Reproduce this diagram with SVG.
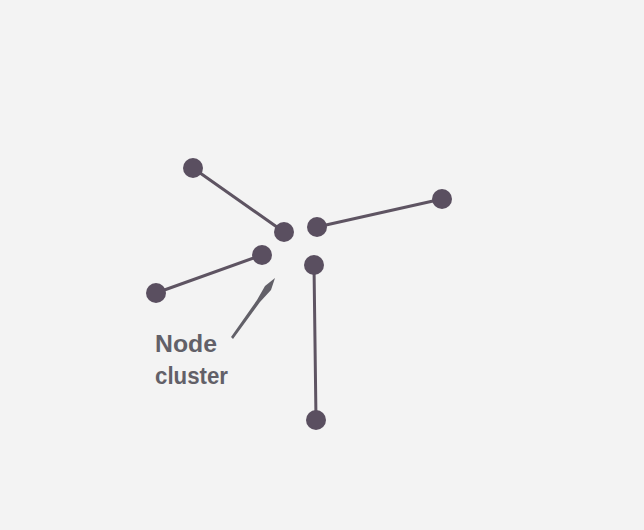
<svg xmlns="http://www.w3.org/2000/svg" width="644" height="530" viewBox="0 0 644 530">
<style>
.edge{stroke:#5e5462;stroke-width:3;stroke-linecap:round;fill:none}
.node{fill:#5a4f60}
.lbl{font-family:"Liberation Sans",Arial,sans-serif;font-size:23px;fill:#626068;font-weight:bold}
</style>
<rect width="644" height="530" fill="#f3f3f3"/>
<g id="connectors">
<line class="edge" x1="193" y1="168" x2="284" y2="232"/>
<line class="edge" x1="317" y1="227" x2="442" y2="199"/>
<line class="edge" x1="262" y1="255" x2="156" y2="293"/>
<line class="edge" x1="314" y1="265" x2="316" y2="420"/>
</g>
<g id="node-top-left"><circle class="node" cx="193" cy="168" r="10"/></g>
<g id="node-center-left"><circle class="node" cx="284" cy="232" r="10"/></g>
<g id="node-center-right"><circle class="node" cx="317" cy="227" r="10"/></g>
<g id="node-right"><circle class="node" cx="442" cy="199" r="10"/></g>
<g id="node-mid-left"><circle class="node" cx="262" cy="255" r="10"/></g>
<g id="node-left"><circle class="node" cx="156" cy="293" r="10"/></g>
<g id="node-center-bottom"><circle class="node" cx="314" cy="265" r="10"/></g>
<g id="node-bottom"><circle class="node" cx="316" cy="420" r="10"/></g>
<g id="label">
<polygon fill="#626068" points="275,278 271,290 260,302 233,339 231,337 257,300 265,286"/>
<text class="lbl" x="155" y="352" textLength="62" lengthAdjust="spacingAndGlyphs">Node</text>
<text class="lbl" x="155" y="384" textLength="73" lengthAdjust="spacingAndGlyphs">cluster</text>
</g>
</svg>
